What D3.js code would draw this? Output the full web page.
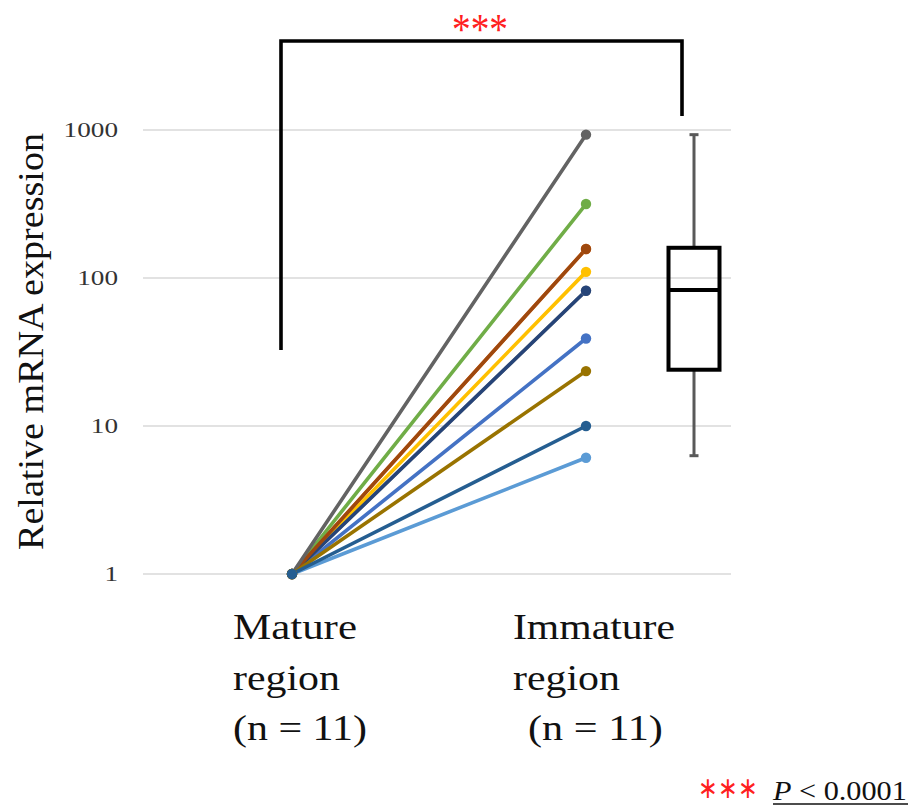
<!DOCTYPE html>
<html>
<head>
<meta charset="utf-8">
<script src="https://cdn.jsdelivr.net/npm/d3@7"></script>
<style>
  html, body { margin: 0; padding: 0; background: #fff; }
  svg { display: block; }
  text { font-family: "Liberation Serif", "Times New Roman", serif; }
</style>
</head>
<body>
<svg id="chart" width="920" height="811"></svg>
<script>
// Paired expression per specimen (mature region normalised to 1)
const specimens = ["S1","S2","S3","S4","S5","S6","S7","S8","S9","S10","S11"];
const matureValues   = [1, 1, 1, 1, 1, 1, 1, 1, 1, 1, 1];
const immatureValues = [39, 157, 82, 110, 6.1, 316, 82, 157, 930, 23.5, 10];
const seriesColors = ["#4472C4","#ED7D31","#A5A5A5","#FFC000","#5B9BD5","#70AD47",
                      "#264478","#9E480E","#636363","#997300","#255E91"];
// Box summary of the immature region: min, Q1, median, Q3, max
const boxStats = [6.3, 24, 83, 160, 930];
const yTicks = [1, 10, 100, 1000];
const groupLabels = [["Mature", "region", "(n = 11)"], ["Immature", "region", "(n = 11)"]];

const svg = d3.select("#chart");

const y = d3.scaleLog().domain([1, 1000]).range([574, 130]);
const x = d3.scaleOrdinal().domain(["Mature", "Immature", "Box"]).range([292, 586, 694]);

// Place a text at (tx, ty) and stretch it horizontally to a given width
function fit(sel, tx, ty, width, anchor = "start") {
  const w = sel.node().getBBox().width;
  const s = width / w;
  const dx = anchor === "end" ? -width : anchor === "middle" ? -width / 2 : 0;
  sel.attr("text-anchor", "start")
     .attr("transform", `translate(${tx + dx},${ty}) scale(${s},1)`);
  return sel;
}

// Gridlines
svg.append("g")
  .selectAll("line")
  .data(yTicks)
  .join("line")
  .attr("x1", 143).attr("x2", 731)
  .attr("y1", d => y(d)).attr("y2", d => y(d))
  .attr("stroke", "#d9d9d9").attr("stroke-width", 1.3);

// Y tick labels
const tickG = svg.append("g");
yTicks.forEach(d => {
  const t = tickG.append("text")
    .attr("font-size", 20)
    .attr("fill", "#333")
    .text(d);
  fit(t, 118, y(d) + 7, 13.6 * String(d).length, "end");
});

// Y axis title
svg.append("text")
  .attr("transform", "translate(43,341.5) rotate(-90)")
  .attr("text-anchor", "middle")
  .attr("font-size", 35)
  .attr("textLength", 417)
  .attr("lengthAdjust", "spacingAndGlyphs")
  .attr("fill", "#111")
  .text("Relative mRNA expression");

// Paired lines
const pairs = specimens.map((s, i) => ({ s, a: matureValues[i], b: immatureValues[i], c: seriesColors[i] }));
const lineG = svg.append("g");
pairs.forEach(p => {
  lineG.append("line")
    .attr("x1", x("Mature")).attr("y1", y(p.a))
    .attr("x2", x("Immature")).attr("y2", y(p.b))
    .attr("stroke", p.c).attr("stroke-width", 3.6)
    .attr("stroke-linecap", "round");
});
pairs.forEach(p => {
  lineG.append("circle").attr("cx", x("Mature")).attr("cy", y(p.a)).attr("r", 5.2).attr("fill", p.c);
  lineG.append("circle").attr("cx", x("Immature")).attr("cy", y(p.b)).attr("r", 5.2).attr("fill", p.c);
});

// Box plot
const [bMin, bQ1, bMed, bQ3, bMax] = boxStats;
const bx = x("Box"), bw = 51;
const boxG = svg.append("g");
boxG.append("line").attr("x1", bx).attr("x2", bx).attr("y1", y(bMax)).attr("y2", y(bQ3))
  .attr("stroke", "#595959").attr("stroke-width", 3);
boxG.append("line").attr("x1", bx).attr("x2", bx).attr("y1", y(bQ1)).attr("y2", y(bMin))
  .attr("stroke", "#595959").attr("stroke-width", 3);
[bMax, bMin].forEach(v => boxG.append("line")
  .attr("x1", bx - 4.5).attr("x2", bx + 4.5).attr("y1", y(v)).attr("y2", y(v))
  .attr("stroke", "#595959").attr("stroke-width", 3));
boxG.append("rect")
  .attr("x", bx - bw / 2).attr("width", bw)
  .attr("y", y(bQ3)).attr("height", y(bQ1) - y(bQ3))
  .attr("fill", "none").attr("stroke", "#000").attr("stroke-width", 4);
boxG.append("line").attr("x1", bx - bw / 2).attr("x2", bx + bw / 2)
  .attr("y1", y(bMed)).attr("y2", y(bMed))
  .attr("stroke", "#000").attr("stroke-width", 4);

// Significance bracket
svg.append("path")
  .attr("d", `M281,350 V41 H682 V116`)
  .attr("fill", "none").attr("stroke", "#000").attr("stroke-width", 3.6);
const stars = svg.append("text")
  .attr("font-family", "'DejaVu Sans', sans-serif")
  .attr("font-size", 44)
  .attr("fill", "#ff2020")
  .text("***");
fit(stars, 452, 44, 56);

// Group labels
const labelX = [[233, 233, 233], [513, 513, 528]];
const labelW = [[124, 107, 134], [162, 107, 135]];
groupLabels.forEach((lines, gi) => {
  lines.forEach((ln, li) => {
    const t = svg.append("text")
      .attr("font-size", 35)
      .attr("fill", "#111")
      .text(ln);
    fit(t, labelX[gi][li], 639 + li * 50.5, labelW[gi][li]);
  });
});

// Footnote
const noteStars = svg.append("text")
  .attr("font-family", "'DejaVu Sans', sans-serif")
  .attr("font-size", 30)
  .attr("fill", "#ff2020")
  .text("∗∗∗");
fit(noteStars, 698, 798, 59);
const note = svg.append("text").attr("font-size", 28).attr("fill", "#111");
note.append("tspan").attr("font-style", "italic").text("P");
note.append("tspan").text(" < 0.0001");
fit(note, 773, 800, 135);
svg.append("line").attr("x1", 773).attr("x2", 908).attr("y1", 804).attr("y2", 804)
  .attr("stroke", "#111").attr("stroke-width", 1.4);
</script>
</body>
</html>
